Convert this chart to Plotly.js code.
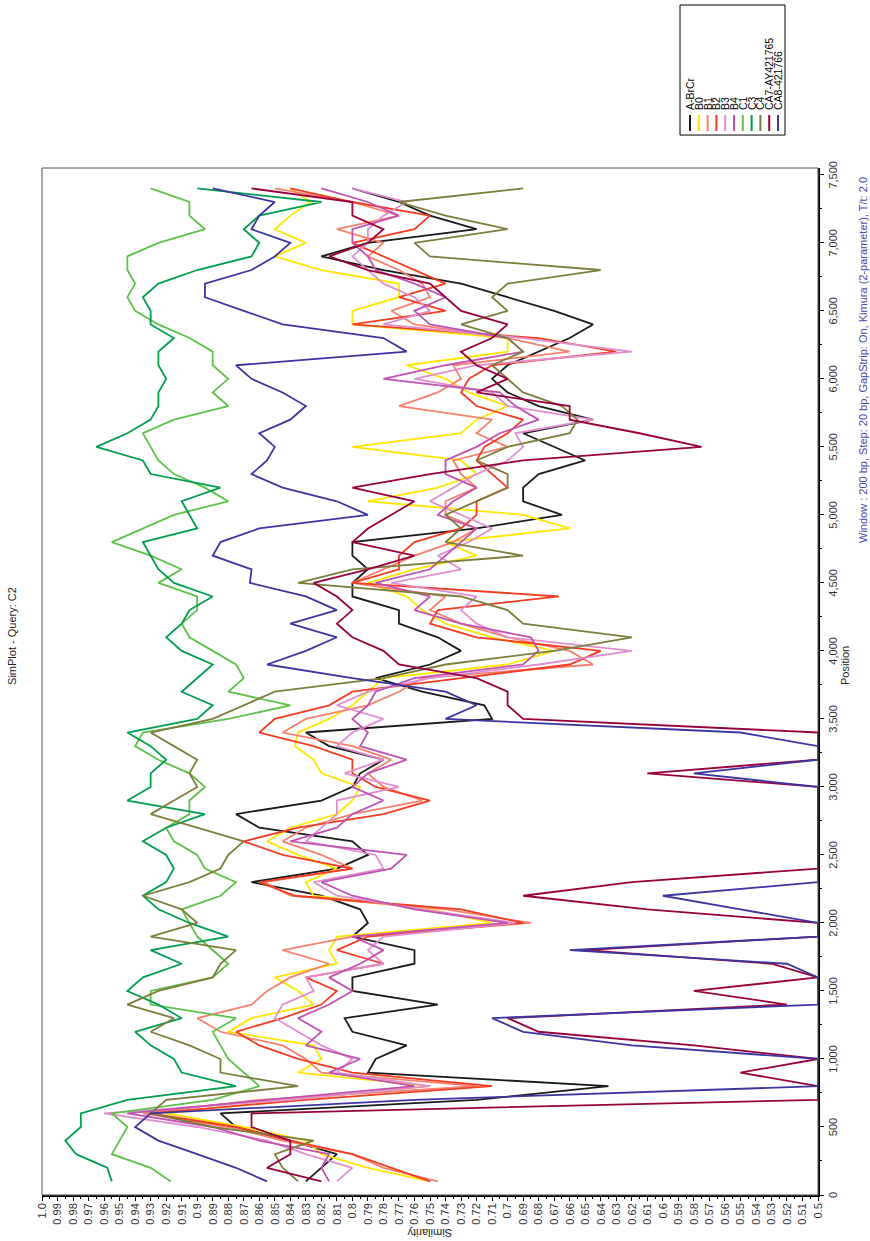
<!DOCTYPE html>
<html>
<head>
<meta charset="utf-8">
<script src="https://cdn.plot.ly/plotly-3.0.1.min.js"></script>
<style>
html, body { margin:0; padding:0; width:870px; height:1241px; overflow:hidden; background:#ffffff; }
#wrap { position:absolute; left:0; top:0; width:1241px; height:870px;
        transform-origin:0 0; transform:translate(0px,1241px) rotate(-90deg); }
</style>
</head>
<body>
<div id="wrap"></div>
<script>
// Window centre positions (bp)
const positions = [100,200,300,400,500,600,700,800,900,1000,
  1100,1200,1300,1400,1500,1600,1700,1800,1900,2000,
  2100,2200,2300,2400,2500,2600,2700,2800,2900,3000,
  3100,3200,3300,3400,3500,3600,3700,3800,3900,4000,
  4100,4200,4300,4400,4500,4600,4700,4800,4900,5000,
  5100,5200,5300,5400,5500,5600,5700,5800,5900,6000,
  6100,6200,6300,6400,6500,6600,6700,6800,6900,7000,
  7100,7200,7300,7400];

const seriesNames = ['A-BrCr','B0','B1','B2','B3','B4','C1','C3','C4','CA7-AY421765','CA8-421766'];
const seriesColors = ['#1a1a1a','#ffe600','#f8806e','#f43c22','#e08fd0','#c252b2','#5ec24a','#009e4f','#7d7d3c','#99003d','#3c35a0'];

const simABrCr = [0.83,0.82,0.81,0.84,0.875,0.885,0.72,0.635,0.79,0.785,
  0.765,0.80,0.805,0.745,0.80,0.80,0.76,0.76,0.80,0.79,
  0.795,0.82,0.865,0.81,0.79,0.80,0.86,0.875,0.82,0.80,
  0.795,0.78,0.815,0.83,0.71,0.715,0.755,0.785,0.75,0.73,
  0.745,0.77,0.77,0.80,0.80,0.79,0.80,0.80,0.72,0.665,
  0.69,0.69,0.68,0.65,0.67,0.69,0.645,0.68,0.70,0.71,
  0.70,0.68,0.66,0.645,0.67,0.70,0.73,0.78,0.82,0.79,
  0.72,0.75,0.77,0.80];
const simB0 = [0.75,0.79,0.82,0.83,0.87,0.92,0.84,0.75,0.835,0.82,
  0.825,0.88,0.865,0.825,0.835,0.85,0.81,0.815,0.81,0.71,
  0.75,0.825,0.83,0.81,0.835,0.855,0.84,0.81,0.80,0.795,
  0.82,0.825,0.837,0.835,0.815,0.80,0.79,0.78,0.70,0.67,
  0.71,0.74,0.755,0.765,0.79,0.76,0.72,0.74,0.66,0.69,
  0.79,0.745,0.72,0.73,0.80,0.73,0.72,0.70,0.725,0.74,
  0.765,0.70,0.70,0.80,0.80,0.77,0.77,0.82,0.85,0.83,
  0.85,0.84,0.827,0.84];
const simB1 = [0.745,0.78,0.80,0.845,0.88,0.935,0.86,0.72,0.82,0.83,
  0.845,0.885,0.90,0.865,0.855,0.84,0.815,0.845,0.80,0.685,
  0.74,0.84,0.857,0.80,0.82,0.845,0.83,0.80,0.755,0.78,
  0.79,0.775,0.80,0.845,0.83,0.79,0.77,0.755,0.645,0.66,
  0.70,0.73,0.75,0.74,0.80,0.78,0.76,0.735,0.72,0.74,
  0.74,0.72,0.73,0.735,0.70,0.72,0.71,0.77,0.745,0.73,
  0.735,0.66,0.70,0.76,0.775,0.75,0.755,0.77,0.79,0.78,
  0.81,0.77,0.80,0.85];
const simB2 = [0.75,0.775,0.80,0.84,0.875,0.93,0.83,0.71,0.80,0.835,
  0.86,0.875,0.845,0.82,0.81,0.83,0.78,0.81,0.79,0.69,
  0.73,0.837,0.86,0.80,0.845,0.87,0.835,0.78,0.75,0.785,
  0.80,0.80,0.825,0.86,0.85,0.815,0.80,0.73,0.66,0.64,
  0.72,0.75,0.745,0.667,0.80,0.77,0.77,0.76,0.73,0.72,
  0.72,0.70,0.71,0.72,0.715,0.70,0.69,0.72,0.73,0.725,
  0.71,0.63,0.68,0.80,0.74,0.77,0.74,0.76,0.78,0.80,
  0.76,0.75,0.80,0.84];
const simB3 = [0.81,0.80,0.83,0.855,0.90,0.96,0.84,0.75,0.81,0.80,
  0.82,0.835,0.85,0.845,0.825,0.83,0.78,0.79,0.78,0.695,
  0.755,0.81,0.825,0.78,0.785,0.83,0.82,0.81,0.81,0.77,
  0.805,0.78,0.81,0.80,0.78,0.81,0.79,0.75,0.68,0.62,
  0.70,0.72,0.73,0.72,0.775,0.73,0.745,0.725,0.71,0.73,
  0.75,0.735,0.72,0.70,0.69,0.695,0.645,0.70,0.71,0.76,
  0.72,0.62,0.69,0.78,0.75,0.76,0.78,0.79,0.80,0.79,
  0.79,0.78,0.765,0.80];
const simB4 = [0.815,0.82,0.815,0.86,0.89,0.945,0.855,0.76,0.815,0.795,
  0.83,0.82,0.835,0.815,0.80,0.815,0.795,0.78,0.80,0.70,
  0.76,0.80,0.82,0.775,0.765,0.84,0.81,0.80,0.78,0.80,
  0.79,0.765,0.795,0.79,0.80,0.79,0.785,0.76,0.69,0.68,
  0.685,0.73,0.76,0.75,0.785,0.75,0.74,0.73,0.72,0.745,
  0.735,0.72,0.74,0.74,0.72,0.705,0.68,0.695,0.705,0.78,
  0.74,0.69,0.70,0.75,0.76,0.74,0.76,0.785,0.79,0.80,
  0.80,0.77,0.79,0.82];
const simC1 = [0.917,0.93,0.955,0.95,0.945,0.955,0.89,0.86,0.87,0.88,
  0.885,0.89,0.875,0.93,0.93,0.89,0.88,0.89,0.90,0.905,
  0.91,0.885,0.875,0.895,0.90,0.915,0.92,0.905,0.905,0.895,
  0.905,0.925,0.94,0.935,0.88,0.84,0.88,0.87,0.875,0.89,
  0.905,0.91,0.90,0.90,0.925,0.91,0.93,0.955,0.935,0.915,
  0.88,0.895,0.915,0.925,0.93,0.935,0.915,0.88,0.89,0.88,
  0.89,0.89,0.905,0.925,0.94,0.945,0.94,0.945,0.945,0.925,
  0.895,0.905,0.905,0.93];
const simC3 = [0.955,0.958,0.978,0.985,0.975,0.975,0.945,0.875,0.91,0.915,
  0.93,0.94,0.91,0.925,0.945,0.935,0.91,0.93,0.88,0.905,
  0.925,0.935,0.92,0.915,0.92,0.935,0.92,0.895,0.945,0.93,
  0.93,0.92,0.93,0.945,0.90,0.89,0.91,0.90,0.89,0.91,
  0.92,0.91,0.905,0.89,0.915,0.925,0.93,0.935,0.90,0.905,
  0.91,0.885,0.93,0.935,0.965,0.945,0.93,0.925,0.925,0.92,
  0.925,0.925,0.915,0.93,0.93,0.935,0.925,0.90,0.865,0.86,
  0.87,0.86,0.82,0.90];
const simC4 = [0.835,0.845,0.85,0.825,0.89,0.93,0.92,0.835,0.885,0.885,
  0.905,0.93,0.915,0.945,0.925,0.89,0.885,0.875,0.93,0.90,
  0.91,0.935,0.905,0.885,0.88,0.87,0.90,0.93,0.915,0.90,
  0.905,0.90,0.915,0.93,0.89,0.87,0.85,0.78,0.74,0.67,
  0.62,0.69,0.70,0.73,0.835,0.80,0.69,0.74,0.73,0.74,
  0.72,0.70,0.70,0.72,0.70,0.66,0.655,0.665,0.69,0.70,
  0.71,0.69,0.70,0.73,0.70,0.71,0.70,0.64,0.75,0.76,
  0.70,0.74,0.77,0.69];
const simCA7 = [0.82,0.855,0.84,0.84,0.865,0.865,0.50,0.50,0.55,0.50,
  0.58,0.68,0.70,0.52,0.58,0.50,0.53,0.65,0.50,0.50,
  0.61,0.69,0.62,0.50,0.50,0.50,0.50,0.50,0.50,0.50,
  0.61,0.50,0.50,0.50,0.69,0.70,0.70,0.72,0.77,0.78,
  0.80,0.81,0.80,0.81,0.825,0.79,0.76,0.80,0.79,0.775,
  0.76,0.80,0.75,0.69,0.575,0.615,0.66,0.66,0.72,0.70,
  0.72,0.73,0.71,0.70,0.73,0.74,0.75,0.79,0.815,0.79,
  0.78,0.80,0.80,0.865];
const simCA8 = [0.855,0.875,0.90,0.925,0.94,0.93,0.76,0.50,0.50,0.50,
  0.62,0.69,0.71,0.50,0.50,0.50,0.52,0.66,0.50,0.50,
  0.55,0.60,0.50,0.50,0.50,0.50,0.50,0.50,0.50,0.50,
  0.58,0.50,0.50,0.55,0.74,0.72,0.74,0.80,0.855,0.83,
  0.81,0.84,0.81,0.83,0.866,0.865,0.89,0.885,0.86,0.79,
  0.81,0.845,0.865,0.855,0.85,0.86,0.84,0.83,0.845,0.865,
  0.875,0.765,0.78,0.845,0.87,0.895,0.895,0.865,0.85,0.84,
  0.865,0.86,0.85,0.89];

const seriesValues = [simABrCr, simB0, simB1, simB2, simB3, simB4, simC1, simC3, simC4, simCA7, simCA8];

// Similarity tick labels (as printed)
const simTickLabels = ['1.0','0.99','0.98','0.97','0.96','0.95','0.94','0.93','0.92','0.91',
  '0.9','0.89','0.88','0.87','0.86','0.85','0.84','0.83','0.82','0.81',
  '0.8','0.79','0.78','0.77','0.76','0.75','0.74','0.73','0.72','0.71',
  '0.7','0.69','0.68','0.67','0.66','0.65','0.64','0.63','0.62','0.61',
  '0.6','0.59','0.58','0.57','0.56','0.55','0.54','0.53','0.52','0.51','0.5'];

const FONT = 'Liberation Sans, Arial, Helvetica, sans-serif';

const traces = seriesNames.map((name, i) => ({
  type: 'scatter', mode: 'lines', name: name,
  x: positions, y: seriesValues[i],
  line: { color: seriesColors[i], width: 1.8 },
  showlegend: false, hoverinfo: 'skip'
}));

// compact legend box drawn in paper coordinates
const shapes = [
  { type:'rect', xref:'paper', yref:'paper', x0:0, x1:1, y0:0, y1:1,
    line:{ color:'#555555', width:1 }, layer:'above' },
  { type:'rect', xref:'paper', yref:'paper', x0:1.0321, x1:1.1587, y0:0.0425, y1:0.1778,
    line:{ color:'#000000', width:1 }, fillcolor:'rgba(0,0,0,0)' }
];
const annotations = [
  { text:'Position', xref:'paper', yref:'paper', x:0.516, y:-0.0348, xanchor:'center', yanchor:'middle',
    showarrow:false, font:{ family:FONT, size:11, color:'#222' } },
  { text:'Similarity', xref:'paper', yref:'paper', x:-0.037, y:0.5, xanchor:'center', yanchor:'middle',
    textangle:-90, showarrow:false, font:{ family:FONT, size:11, color:'#222' } },
  { text:'Window : 200 bp, Step: 20 bp, GapStrip: On, Kimura (2-parameter), T/t: 2.0',
    xref:'paper', yref:'paper', x:0.993, y:-0.0580, xanchor:'right', yanchor:'middle',
    showarrow:false, font:{ family:FONT, size:11, color:'#4646b0' } }
];
seriesNames.forEach((name, i) => {
  const yy = (128 - 8.8 * i) / 776;
  shapes.push({ type:'line', xref:'paper', yref:'paper', x0:1.0360, x1:1.0516, y0:yy, y1:yy,
    line:{ color: seriesColors[i], width:2 } });
  annotations.push({ text:name, xref:'paper', yref:'paper', x:1.0555, y:yy, xanchor:'left', yanchor:'middle',
    showarrow:false, borderpad:0, font:{ family:FONT, size:10.5, color:'#000' } });
});

const layout = {
  width: 1241, height: 870,
  margin: { l:46, r:168, t:42, b:52, pad:0 },
  paper_bgcolor:'#ffffff', plot_bgcolor:'#ffffff',
  font: { family: FONT, size: 11, color:'#222' },
  title: { text:'SimPlot - Query: C2', font:{ family:FONT, size:11, color:'#222' },
           xref:'container', x:0.4875, xanchor:'center', yref:'container', y:0.986, yanchor:'middle' },
  showlegend: false,
  xaxis: {
    range:[0, 7550], tickmode:'linear', tick0:0, dtick:500, tickformat:',d',
    ticks:'outside', ticklen:4, tickwidth:1, tickcolor:'#000',
    minor:{ tickmode:'linear', tick0:0, dtick:250, ticks:'outside', ticklen:2, tickcolor:'#000', showgrid:false },
    showline:true, linecolor:'#000', linewidth:2, mirror:false,
    showgrid:false, zeroline:false, tickfont:{ family:FONT, size:11, color:'#333' }
  },
  yaxis: {
    range:[0.5, 1.0], tickmode:'array',
    tickvals: simTickLabels.map(Number), ticktext: simTickLabels,
    ticks:'outside', ticklen:4, tickwidth:1, tickcolor:'#000',
    minor:{ tickmode:'linear', tick0:0.5, dtick:0.005, ticks:'outside', ticklen:2, tickcolor:'#000', showgrid:false },
    showline:true, linecolor:'#000', linewidth:2, mirror:false,
    showgrid:false, zeroline:false, tickfont:{ family:FONT, size:11, color:'#333' }
  },
  shapes: shapes,
  annotations: annotations
};

Plotly.newPlot('wrap', traces, layout, { staticPlot:true, displayModeBar:false });
</script>
</body>
</html>
